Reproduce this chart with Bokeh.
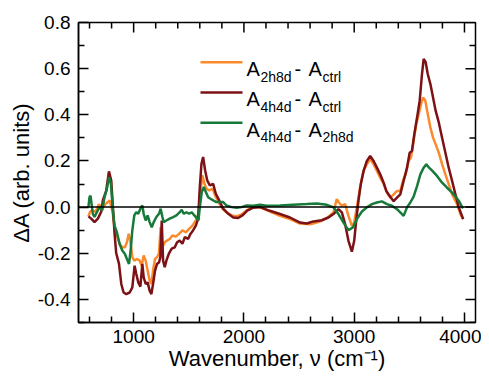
import numpy as np
from bokeh.plotting import figure
from bokeh.models import Range1d, LinearAxis, FixedTicker, PrintfTickFormatter, Span
from bokeh.core.properties import value
from bokeh.embed import file_html
from bokeh.resources import INLINE

# ---------------- data ----------------
x_4h4d_ctrl = [590, 615, 645, 676, 706, 721, 751, 776, 797, 812, 827, 842, 867, 888, 909, 933, 964, 988,
               1009, 1024, 1042, 1061, 1079, 1091, 1109, 1127, 1145, 1161, 1176, 1194, 1212, 1230, 1242,
               1255, 1267, 1282, 1297, 1321, 1345, 1373, 1394, 1418, 1442, 1464, 1494, 1515, 1539, 1564,
               1585, 1600, 1615, 1630, 1648, 1667, 1691, 1721, 1745, 1776, 1812, 1858, 1903, 1948, 1990,
               2030, 2080, 2145, 2236, 2327, 2418, 2509, 2570, 2630, 2706, 2767, 2812, 2857, 2888, 2918,
               2948, 2979, 3000, 3018, 3039, 3060, 3085, 3115, 3145, 3176, 3206, 3236, 3267, 3291, 3312,
               3333, 3358, 3388, 3418, 3448, 3479, 3503, 3524, 3545, 3570, 3594, 3615, 3630, 3648, 3667,
               3691, 3715, 3739, 3767, 3797, 3827, 3857, 3888, 3918, 3948, 3988]
y_4h4d_ctrl = [-0.04, -0.05, -0.065, -0.05, -0.02, 0.03, 0.07, 0.155, 0.115, 0.0, -0.115, -0.2, -0.245,
               -0.333, -0.37, -0.377, -0.37, -0.348, -0.254, -0.29, -0.326, -0.345, -0.246, -0.304,
               -0.333, -0.326, -0.362, -0.377, -0.333, -0.275, -0.246, -0.24, -0.217, -0.058, -0.232,
               -0.26, -0.232, -0.2, -0.18, -0.174, -0.152, -0.145, -0.159, -0.13, -0.138, -0.116, -0.101,
               -0.08, -0.05, 0.087, 0.188, 0.217, 0.16, 0.116, 0.094, 0.101, 0.058, 0.029, -0.007,
               -0.029, -0.045, -0.047, -0.035, -0.015, -0.003, 0.0, -0.016, -0.03, -0.045, -0.067,
               -0.071, -0.062, -0.057, -0.045, -0.03, -0.009, -0.023, -0.074, -0.146, -0.193, -0.146,
               -0.059, 0.028, 0.1, 0.157, 0.2, 0.222, 0.2, 0.171, 0.142, 0.106, 0.07, 0.055, 0.041,
               0.026, 0.041, 0.055, 0.113, 0.171, 0.236, 0.243, 0.316, 0.388, 0.461, 0.577, 0.642,
               0.628, 0.577, 0.533, 0.475, 0.417, 0.367, 0.301, 0.236, 0.171, 0.113, 0.055, 0.0, -0.052]

x_2h8d_ctrl = [590, 605, 624, 655, 685, 715, 745, 767, 782, 806, 827, 848, 873, 897, 921, 939, 955, 970,
               988, 1006, 1030, 1055, 1073, 1091, 1109, 1127, 1145, 1161, 1176, 1194, 1212, 1230, 1245,
               1261, 1282, 1303, 1327, 1352, 1382, 1412, 1442, 1473, 1503, 1533, 1564, 1588, 1606, 1624,
               1642, 1661, 1685, 1715, 1739, 1770, 1806, 1842, 1888, 1933, 1979, 2030, 2085, 2145, 2236,
               2327, 2418, 2509, 2600, 2691, 2758, 2812, 2842, 2861, 2888, 2918, 2948, 2979, 3000, 3024,
               3054, 3085, 3115, 3145, 3176, 3206, 3236, 3267, 3297, 3327, 3358, 3388, 3418, 3442, 3467,
               3494, 3515, 3539, 3563, 3585, 3606, 3624, 3645, 3667, 3691, 3715, 3739, 3767, 3797, 3827,
               3857, 3888, 3933, 3963, 3988]
y_2h8d_ctrl = [-0.04, -0.02, -0.014, -0.02, 0.012, -0.007, 0.014, 0.022, 0.029, -0.014, -0.087, -0.123,
               -0.16, -0.174, -0.174, -0.152, -0.116, -0.145, -0.217, -0.232, -0.225, -0.232, -0.254,
               -0.21, -0.232, -0.275, -0.319, -0.333, -0.275, -0.225, -0.217, -0.2, -0.087, -0.174,
               -0.152, -0.145, -0.138, -0.123, -0.128, -0.116, -0.101, -0.109, -0.094, -0.08, -0.058,
               -0.029, 0.072, 0.138, 0.101, 0.08, 0.072, 0.08, 0.051, 0.022, -0.007, -0.022, -0.036,
               -0.04, -0.032, -0.012, -0.002, 0.0, -0.019, -0.038, -0.052, -0.071, -0.074, -0.062,
               -0.045, -0.023, 0.035, 0.02, 0.006, 0.013, -0.038, -0.081, -0.067, 0.0, 0.086, 0.157,
               0.186, 0.208, 0.186, 0.157, 0.128, 0.1, 0.063, 0.041, 0.055, 0.07, 0.07, 0.113, 0.142,
               0.2, 0.215, 0.287, 0.359, 0.403, 0.446, 0.475, 0.461, 0.403, 0.345, 0.301, 0.272, 0.236,
               0.186, 0.142, 0.1, 0.055, 0.013, -0.03, -0.052]

x_4h4d_2h8d = [590, 600, 609, 630, 645, 667, 691, 715, 736, 758, 776, 794, 812, 827, 848, 873, 897, 921,
               939, 958, 973, 988, 1006, 1024, 1042, 1061, 1079, 1091, 1109, 1127, 1145, 1164, 1182,
               1206, 1230, 1245, 1261, 1273, 1297, 1327, 1358, 1388, 1418, 1436, 1455, 1479, 1503, 1527,
               1551, 1576, 1588, 1600, 1618, 1636, 1655, 1676, 1697, 1721, 1751, 1782, 1812, 1842, 1888,
               1933, 1979, 2024, 2085, 2145, 2206, 2327, 2448, 2570, 2661, 2752, 2812, 2857, 2903, 2948,
               2988, 3024, 3070, 3115, 3161, 3206, 3251, 3297, 3342, 3388, 3418, 3448, 3479, 3509, 3539,
               3570, 3600, 3630, 3654, 3679, 3709, 3751, 3797, 3842, 3888, 3927, 3948, 3979, 3988]
y_4h4d_2h8d = [0.0, 0.043, 0.05, -0.029, -0.043, -0.022, 0.0, -0.014, 0.043, 0.08, 0.13, 0.101, -0.014,
               -0.08, -0.109, -0.16, -0.188, -0.203, -0.225, -0.246, -0.188, -0.101, -0.036, -0.022,
               -0.029, -0.007, 0.007, -0.029, -0.058, -0.036, -0.065, -0.087, -0.065, -0.043, -0.029,
               -0.007, -0.043, -0.065, -0.058, -0.05, -0.043, -0.036, -0.022, -0.012, -0.029, -0.022,
               -0.029, -0.022, -0.036, -0.05, -0.058, 0.0, 0.065, 0.087, 0.065, 0.043, 0.036, 0.029,
               0.022, 0.022, 0.022, 0.007, 0.0, -0.003, 0.0, 0.007, 0.006, 0.01, 0.006, 0.007, 0.01,
               0.013, 0.016, 0.01, -0.001, -0.03, -0.067, -0.1, -0.088, -0.052, -0.019, -0.001, 0.013,
               0.02, 0.025, 0.013, 0.006, -0.009, -0.023, -0.038, -0.001, 0.02, 0.045, 0.091, 0.142,
               0.171, 0.186, 0.171, 0.157, 0.135, 0.106, 0.084, 0.063, 0.041, 0.028, 0.0, -0.005]

x_major_ticks = [1000, 2000, 3000, 4000]
x_minor_ticks = [600, 800, 1200, 1400, 1600, 1800, 2200, 2400, 2600, 2800,
                 3200, 3400, 3600, 3800]
y_major_ticks = [-0.4, -0.2, 0.0, 0.2, 0.4, 0.6, 0.8]
y_minor_ticks = [-0.5, -0.3, -0.1, 0.1, 0.3, 0.5, 0.7]

legend_main = ["A", "A", "A"]
legend_sub1 = ["2h8d", "4h4d", "4h4d"]
legend_sub2 = ["ctrl", "ctrl", "2h8d"]

x_title = "Wavenumber, ν (cm⁻¹)"
y_title = "ΔA (arb. units)"

C_ORANGE = "#FA8A2C"
C_MAROON = "#7C1215"
C_GREEN = "#177A3A"
FONT = "Liberation Sans"

# ---------------- figure ----------------
W, H = 481, 375
ML, MR, MT, MB = 78, 6, 22, 53
X0, X1, Y0, Y1 = 500, 4100, -0.5, 0.8

p = figure(width=W, height=H, output_backend="svg", toolbar_location=None,
           x_range=Range1d(X0, X1), y_range=Range1d(Y0, Y1),
           min_border_left=ML, min_border_right=MR, min_border_top=MT, min_border_bottom=MB,
           x_axis_location=None, y_axis_location=None)
p.grid.visible = False
p.outline_line_color = "black"
p.outline_line_width = 1.5
p.background_fill_color = "white"
p.border_fill_color = "white"

FW = W - ML - MR
FH = H - MT - MB

def xd(px):  # picture pixel -> data x
    return X0 + (px - ML) * (X1 - X0) / FW

def yd(py):  # picture pixel -> data y
    return Y1 - (py - MT) * (Y1 - Y0) / FH

def style_axis(ax):
    ax.axis_line_color = "black"
    ax.axis_line_width = 1.5
    ax.major_tick_in = 10
    ax.major_tick_out = 0
    ax.minor_tick_in = 6
    ax.minor_tick_out = 0
    ax.major_tick_line_width = 1.5
    ax.minor_tick_line_width = 1.5
    ax.major_tick_line_color = "black"
    ax.minor_tick_line_color = "black"
    ax.major_label_text_font = FONT
    ax.major_label_text_font_size = "19px"
    ax.major_label_text_color = "black"
    ax.axis_label_text_font = FONT
    ax.axis_label_text_font_size = "22px"
    ax.axis_label_text_font_style = "normal"
    ax.axis_label_text_color = "black"

xt = FixedTicker(ticks=x_major_ticks, minor_ticks=x_minor_ticks)
yt = FixedTicker(ticks=y_major_ticks, minor_ticks=y_minor_ticks)

xb = LinearAxis(ticker=xt, axis_label=x_title); style_axis(xb)
xb.major_label_standoff = 7
xb.axis_label_standoff = 0
yl = LinearAxis(ticker=yt, formatter=PrintfTickFormatter(format="%.1f"), axis_label=y_title)
style_axis(yl)
yl.major_label_standoff = 8
yl.axis_label_standoff = 1
p.add_layout(xb, "below")
p.add_layout(yl, "left")

# mirrored ticks on top and right frame edges
def mirror_ticks(ticks, length_px, width):
    dy = length_px * (Y1 - Y0) / FH
    p.segment(x0=ticks, y0=[Y1] * len(ticks), x1=ticks, y1=[Y1 - dy] * len(ticks),
              line_color="black", line_width=width)

def mirror_yticks(ticks, length_px, width):
    dx = length_px * (X1 - X0) / FW
    p.segment(x0=[X1] * len(ticks), y0=ticks, x1=[X1 - dx] * len(ticks), y1=ticks,
              line_color="black", line_width=width)

mirror_ticks(x_major_ticks, 10, 1.5)
mirror_ticks(x_minor_ticks, 6, 1.5)
mirror_yticks(y_major_ticks, 10, 1.5)
mirror_yticks(y_minor_ticks, 6, 1.5)

# ---------------- series ----------------
LW = 2.5
p.line(x_2h8d_ctrl, y_2h8d_ctrl, line_color=C_ORANGE, line_width=LW)
p.line(x_4h4d_ctrl, y_4h4d_ctrl, line_color=C_MAROON, line_width=LW)
p.line(x_4h4d_2h8d, y_4h4d_2h8d, line_color=C_GREEN, line_width=LW)

p.add_layout(Span(location=0, dimension="width", line_color="black", line_width=1.5))

# ---------------- legend (manual, for subscripts) ----------------
colors = [C_ORANGE, C_MAROON, C_GREEN]
rows_py = [61.7, 92.0, 122.3]
for i, ly in enumerate(rows_py):
    p.segment(x0=xd(200), y0=yd(ly), x1=xd(242), y1=yd(ly), line_color=colors[i], line_width=LW)
    big_y = yd(ly + 6.8)
    sub_y = yd(ly + 14.4)
    p.text(x=[xd(246), xd(294), xd(308)], y=[big_y, big_y, big_y],
           text=[legend_main[i], "-", "A"], text_font=value(FONT), text_font_size="20px",
           text_baseline="alphabetic", text_align="left", text_color="black")
    p.text(x=[xd(260), xd(322)], y=[sub_y, sub_y],
           text=[legend_sub1[i], legend_sub2[i]], text_font=value(FONT), text_font_size="14px",
           text_baseline="alphabetic", text_align="left", text_color="black")

open("out.html", "w").write(file_html(p, INLINE))
